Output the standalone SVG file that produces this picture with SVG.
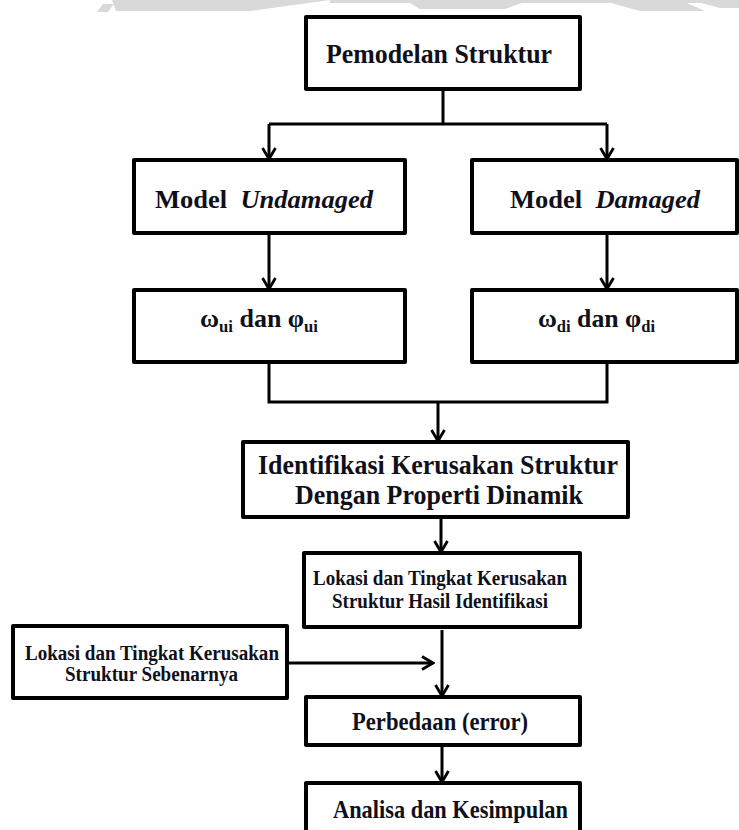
<svg xmlns="http://www.w3.org/2000/svg" width="739" height="830" viewBox="0 0 739 830">
<style>
.box{fill:#fff;stroke:#000;stroke-width:4;stroke-linejoin:round}
.ln{fill:none;stroke:#000;stroke-width:3}
.t{font-family:"Liberation Serif","DejaVu Serif",serif;font-weight:bold;fill:#10101a}
.wm{fill:#d9d9d9}
</style>
<defs>
<marker id="ah" markerUnits="userSpaceOnUse" viewBox="0 0 14 16" markerWidth="14" markerHeight="16" refX="12.5" refY="8" orient="auto">
<path d="M1.5,1.5 L12.5,8 L1.5,14.5" fill="none" stroke="#000" stroke-width="2.8"/>
</marker>
</defs>
<rect width="739" height="830" fill="#fff"/>
<g id="watermark">
<polygon class="wm" points="97,12 108,12 114,4 103,4"/>
<polygon class="wm" points="112,0 330,0 250,11 116,11"/>
<polygon class="wm" points="330,0 739,0 739,3 330,3"/>
<polygon class="wm" points="405,0 530,0 505,9 420,9"/>
<polygon class="wm" points="600,0 680,0 705,11 640,11"/>
<polygon class="wm" points="690,0 739,0 739,8 720,8"/>
</g>
<g id="connectors">
<polyline class="ln" points="443,89 443,124"/>
<polyline class="ln" points="269,124 607,124"/>
<line class="ln" x1="269" y1="124" x2="269" y2="159" marker-end="url(#ah)"/>
<line class="ln" x1="607" y1="124" x2="607" y2="159" marker-end="url(#ah)"/>
<line class="ln" x1="269" y1="233" x2="269" y2="289" marker-end="url(#ah)"/>
<line class="ln" x1="607" y1="233" x2="607" y2="289" marker-end="url(#ah)"/>
<polyline class="ln" points="269,362 269,402 607,402 607,362"/>
<line class="ln" x1="438" y1="402" x2="438" y2="441" marker-end="url(#ah)"/>
<line class="ln" x1="441" y1="517" x2="441" y2="552" marker-end="url(#ah)"/>
<line class="ln" x1="287" y1="663" x2="433" y2="663" marker-end="url(#ah)"/>
<line class="ln" x1="442" y1="630" x2="442" y2="696" marker-end="url(#ah)"/>
<line class="ln" x1="442" y1="745" x2="442" y2="782" marker-end="url(#ah)"/>
</g>
<g id="n-pemodelan">
<rect class="box" x="306" y="17" width="274" height="72"/>
<text class="t" x="326" y="63" font-size="27" textLength="226" lengthAdjust="spacingAndGlyphs">Pemodelan Struktur</text>
</g>
<g id="n-undamaged">
<rect class="box" x="134" y="160" width="271" height="73"/>
<text class="t" x="155" y="208" font-size="25" textLength="218" lengthAdjust="spacingAndGlyphs" xml:space="preserve">Model  <tspan font-style="italic">Undamaged</tspan></text>
</g>
<g id="n-damaged">
<rect class="box" x="472" y="160" width="265" height="73"/>
<text class="t" x="510" y="208" font-size="25" textLength="190" lengthAdjust="spacingAndGlyphs" xml:space="preserve">Model  <tspan font-style="italic">Damaged</tspan></text>
</g>
<g id="n-omega-u">
<rect class="box" x="134" y="290" width="271" height="72"/>
<text class="t" x="200" y="327" font-size="25" textLength="118" lengthAdjust="spacingAndGlyphs">ω<tspan font-size="16" dy="5">ui</tspan><tspan dy="-5"> dan φ</tspan><tspan font-size="16" dy="5">ui</tspan></text>
</g>
<g id="n-omega-d">
<rect class="box" x="472" y="290" width="265" height="72"/>
<text class="t" x="538" y="327" font-size="25" textLength="117" lengthAdjust="spacingAndGlyphs">ω<tspan font-size="16" dy="5">di</tspan><tspan dy="-5"> dan φ</tspan><tspan font-size="16" dy="5">di</tspan></text>
</g>
<g id="n-identifikasi">
<rect class="box" x="243" y="442" width="385" height="75"/>
<text class="t" x="258" y="474" font-size="28" textLength="360" lengthAdjust="spacingAndGlyphs">Identifikasi Kerusakan Struktur</text>
<text class="t" x="295" y="504" font-size="28" textLength="288" lengthAdjust="spacingAndGlyphs">Dengan Properti Dinamik</text>
</g>
<g id="n-hasil">
<rect class="box" x="304" y="553" width="276" height="74"/>
<text class="t" x="313" y="585" font-size="20" textLength="254" lengthAdjust="spacingAndGlyphs">Lokasi dan Tingkat Kerusakan</text>
<text class="t" x="332" y="608" font-size="20" textLength="216" lengthAdjust="spacingAndGlyphs">Struktur Hasil Identifikasi</text>
</g>
<g id="n-sebenarnya">
<rect class="box" x="13" y="626" width="274" height="72"/>
<text class="t" x="25" y="660" font-size="20" textLength="254" lengthAdjust="spacingAndGlyphs">Lokasi dan Tingkat Kerusakan</text>
<text class="t" x="65" y="681" font-size="20" textLength="173" lengthAdjust="spacingAndGlyphs">Struktur Sebenarnya</text>
</g>
<g id="n-perbedaan">
<rect class="box" x="306" y="697" width="274" height="48"/>
<text class="t" x="352" y="730" font-size="25" textLength="176" lengthAdjust="spacingAndGlyphs">Perbedaan (error)</text>
</g>
<g id="n-analisa">
<rect class="box" x="306" y="783" width="274" height="60"/>
<text class="t" x="333" y="818" font-size="25" textLength="235" lengthAdjust="spacingAndGlyphs">Analisa dan Kesimpulan</text>
</g>
</svg>
